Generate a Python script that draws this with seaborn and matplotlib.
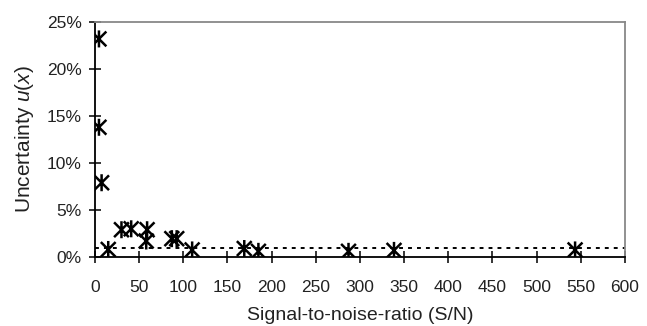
import matplotlib
matplotlib.use("Agg")
import matplotlib.pyplot as plt
from matplotlib.path import Path
from matplotlib.ticker import PercentFormatter
import pandas as pd
import seaborn as sns

# Signal-to-noise ratio and the corresponding relative uncertainty (%)
snr = [4.5, 4.5, 7.5, 15, 30, 41, 59, 58, 87, 92.5, 110, 169, 185, 287, 338.5, 543.5]
uncertainty = [23.2, 13.8, 7.9, 0.8, 2.9, 3.0, 2.9, 1.7, 1.95, 1.95, 0.75, 0.9, 0.6, 0.6, 0.7, 0.75]
reference_level = 1.0

xticks = list(range(0, 601, 50))
yticks = [0, 5, 10, 15, 20, 25]

sns.set_style("ticks")
plt.rcParams["font.family"] = ["Liberation Sans", "DejaVu Sans"]
plt.rcParams["mathtext.fontset"] = "custom"
plt.rcParams["mathtext.it"] = "Liberation Sans:italic"
plt.rcParams["mathtext.rm"] = "Liberation Sans"

# Asterisk marker: an X with a vertical bar through it
star = Path(
    [(-1, -1), (1, 1), (-1, 1), (1, -1), (0, -1.15), (0, 1.15)],
    [Path.MOVETO, Path.LINETO, Path.MOVETO, Path.LINETO, Path.MOVETO, Path.LINETO],
)

df = pd.DataFrame({"snr": snr, "u": uncertainty})

fig = plt.figure(figsize=(6.47, 3.26), dpi=100)
ax = fig.add_axes([0.1468, 0.2117, 0.966 - 0.1468, 0.9325 - 0.2117])

ax.axhline(reference_level, color="black", linestyle=(0, (2, 2.6)), linewidth=1.4, zorder=1)

sns.scatterplot(data=df, x="snr", y="u", ax=ax, marker=star, s=150,
                facecolor="none", edgecolor="black", color="black",
                linewidth=1.8, zorder=3, legend=False)

ax.set_xlim(0, 600)
ax.set_ylim(0, 25)
ax.set_xticks(xticks)
ax.set_yticks(yticks)
ax.yaxis.set_major_formatter(PercentFormatter(decimals=0))

for side in ("left", "bottom"):
    ax.spines[side].set_color("black")
    ax.spines[side].set_linewidth(1.3)
for side in ("top", "right"):
    ax.spines[side].set_visible(True)
    ax.spines[side].set_color("#888888")
    ax.spines[side].set_linewidth(1.3)

ax.tick_params(axis="both", direction="inout", length=9, width=1.1, color="black",
               labelsize=12.5, labelcolor="#222222")
ax.tick_params(axis="x", pad=12)
ax.tick_params(axis="y", pad=5)

ax.set_xlabel("Signal-to-noise-ratio (S/N)", fontsize=14, color="#222222", labelpad=9)
ax.set_ylabel("Uncertainty $u(x)$", fontsize=15, color="#222222", labelpad=8)

fig.savefig("out.png", dpi=100)
